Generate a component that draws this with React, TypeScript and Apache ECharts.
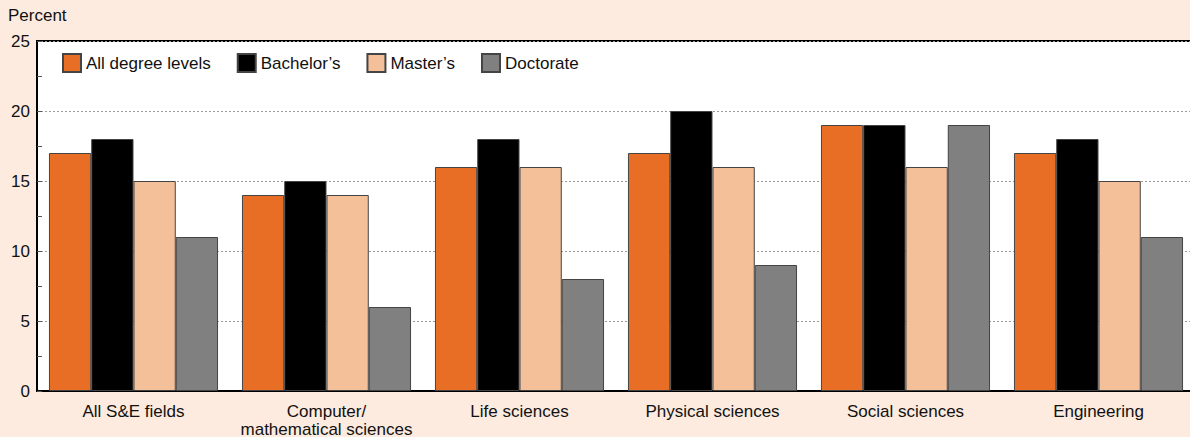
import React, { useEffect, useRef } from "react";
import * as echarts from "echarts";

const categories = [
  "All S&E fields",
  "Computer/\nmathematical sciences",
  "Life sciences",
  "Physical sciences",
  "Social sciences",
  "Engineering",
];
const allLevels = [17, 14, 16, 17, 19, 17];
const bachelors = [18, 15, 18, 20, 19, 18];
const masters = [15, 14, 16, 16, 16, 15];
const doctorate = [11, 6, 8, 9, 19, 11];
const seriesNames = ["All degree levels", "Bachelor’s", "Master’s", "Doctorate"];
const seriesColors = ["#E86D25", "#000000", "#F4C09A", "#808080"];

const FONT = "'Liberation Sans', Arial, Helvetica, sans-serif";

export default function App() {
  const ref = useRef<HTMLDivElement>(null);
  useEffect(() => {
    document.body.style.margin = "0";
    const chart = echarts.init(ref.current!, null, { renderer: "svg" });
    const data = [allLevels, bachelors, masters, doctorate];
    const axisCommon = {
      type: "value",
      min: 0,
      max: 25,
      interval: 5,
      axisLine: { show: true, lineStyle: { color: "#000", width: 2 } },
      axisTick: { show: true, inside: true, length: 5, lineStyle: { color: "#555" } },
      minorTick: { show: true, splitNumber: 2, length: 5, lineStyle: { color: "#555" } },
    };
    chart.setOption({
      animation: false,
      backgroundColor: "#FCEBDE",
      textStyle: { fontFamily: FONT },
      grid: {
        left: 37,
        top: 41,
        right: -5,
        bottom: 46,
        outerBoundsMode: "none",
        containLabel: false,
        show: true,
        backgroundColor: "#fff",
        borderColor: "#000",
        borderWidth: 2,
      },
      graphic: [
        {
          type: "text",
          left: 8,
          top: 7,
          style: { text: "Percent", fontSize: 17, fill: "#111", fontFamily: FONT },
        },
      ],
      legend: {
        left: 62,
        top: 53,
        itemWidth: 18,
        itemHeight: 18,
        itemGap: 26,
        padding: 0,
        icon: "rect",
        textStyle: { fontSize: 17, color: "#111", fontFamily: FONT, padding: [0, 0, 0, 0] },
        data: seriesNames,
      },
      xAxis: {
        type: "category",
        data: categories,
        axisLine: { show: true, lineStyle: { color: "#000", width: 2 } },
        axisTick: { show: false },
        axisLabel: {
          interval: 0,
          fontSize: 17,
          color: "#111",
          margin: 11,
          lineHeight: 18,
          fontFamily: FONT,
        },
      },
      yAxis: [
        {
          ...axisCommon,
          position: "left",
          splitLine: { show: true, lineStyle: { color: "#999", type: [2, 2], width: 1 } },
          axisLabel: { fontSize: 17, color: "#111", margin: 7, fontFamily: FONT },
        },
        {
          ...axisCommon,
          position: "right",
          splitLine: { show: false },
          axisLabel: { show: false },
        },
      ],
      series: seriesNames.map((name, i) => ({
        name,
        type: "bar",
        data: data[i],
        barGap: "0%",
        barCategoryGap: "12.4%",
        itemStyle: { color: seriesColors[i], borderColor: "#444", borderWidth: 1 },
      })),
    });
    return () => chart.dispose();
  }, []);
  return <div ref={ref} style={{ width: 1190, height: 437 }} />;
}
